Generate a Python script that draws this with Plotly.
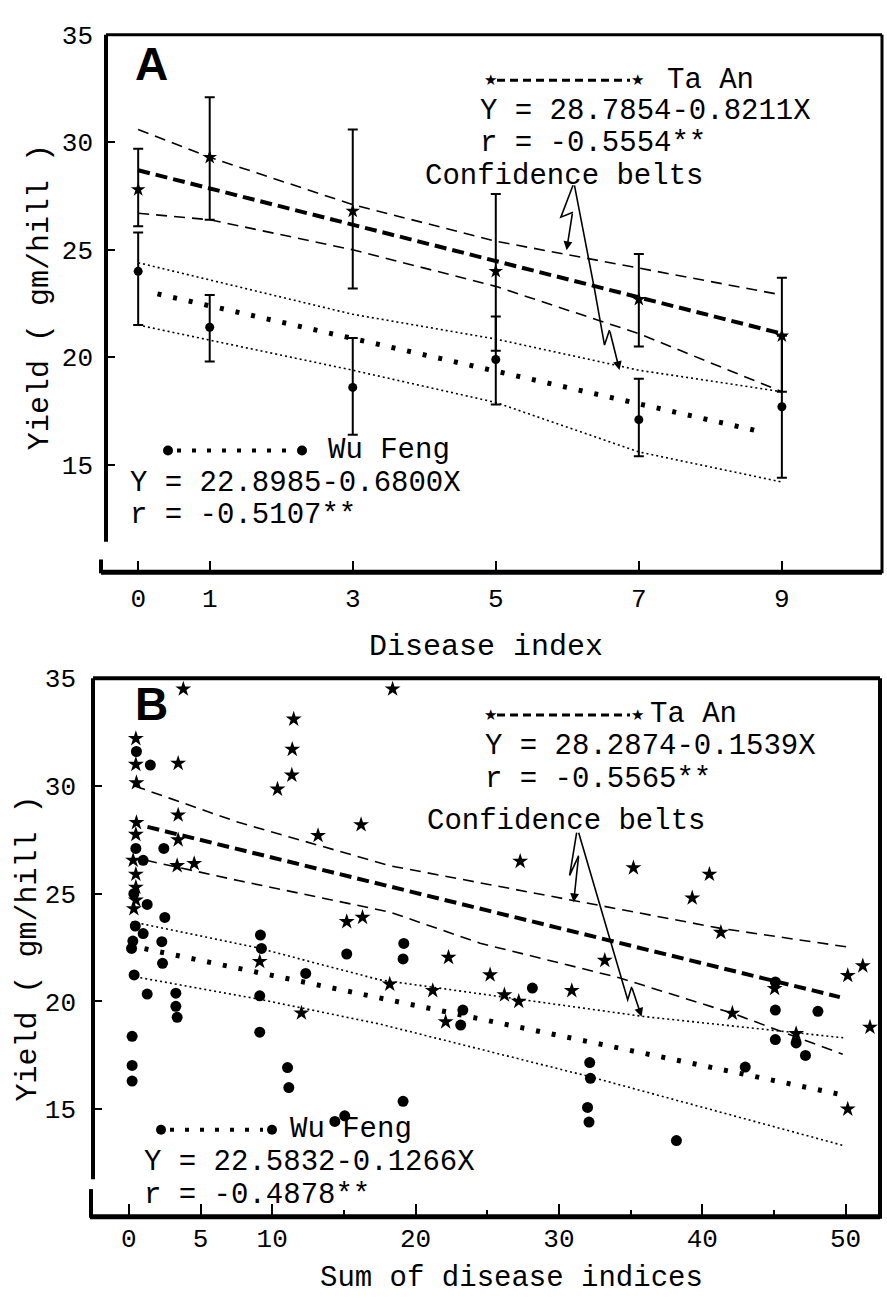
import plotly.graph_objects as go

# ---------------- data: panel A (Disease index) ----------------
A_x = [0, 1, 3, 5, 7, 9]
A_taan_mean = [27.8, 29.3, 26.8, 24.0, 22.7, 21.0]
A_taan_hi = [29.7, 32.1, 30.6, 27.6, 24.8, 23.7]
A_taan_lo = [26.1, 26.4, 23.2, 20.3, 20.5, 18.4]
A_wu_mean = [24.0, 21.4, 18.6, 19.9, 17.1, 17.7]
A_wu_hi = [25.8, 22.9, 20.9, 21.9, 19.0, 21.0]
A_wu_lo = [21.5, 19.8, 16.4, 17.8, 15.4, 14.4]

A_belt_x = [0, 1, 3, 5, 7, 9]
A_taan_belt_up = [30.6, 29.3, 27.1, 25.4, 24.15, 22.9]
A_taan_belt_dn = [26.7, 26.4, 25.0, 23.3, 21.1, 18.4]
A_wu_belt_up = [24.4, 23.6, 22.0, 20.85, 19.4, 18.4]
A_wu_belt_dn = [21.5, 20.8, 19.4, 17.9, 15.6, 14.2]
A_taan_reg_x = [0, 9]
A_taan_reg_y = [28.7, 21.1]
A_wu_reg_x = [0.27, 8.76]
A_wu_reg_y = [22.95, 16.5]

# ---------------- data: panel B (Sum of disease indices) ----------------
B_taan_x = [3.8, 0.49, 0.49, 3.44, 0.53, 11.5, 11.4, 11.37, 10.37, 3.44, 0.53, 0.49,
            3.44, 0.3, 3.37, 4.56, 0.49, 0.49, 0.49, 0.35, 13.2, 16.2, 15.2, 16.3,
            18.4, 27.3, 35.2, 40.5, 39.3, 41.3, 22.3, 25.2, 18.2, 21.2, 26.2, 27.2,
            30.9, 33.2, 22.1, 42.1, 45.05, 46.55, 50.15, 51.2, 51.7, 50.15, 9.13, 12.04]
B_taan_y = [34.5, 32.2, 31.0, 31.05, 30.15, 33.1, 31.7, 30.5, 29.85, 28.65, 28.3, 27.75,
            27.5, 26.55, 26.3, 26.4, 25.9, 25.3, 24.7, 24.3, 27.7, 28.2, 23.7, 23.9,
            34.5, 26.5, 26.2, 25.9, 24.8, 23.2, 22.04, 21.23, 20.8, 20.5, 20.3, 20.0,
            20.5, 21.9, 19.05, 19.45, 20.6, 18.5, 21.2, 21.65, 18.8, 15.0, 21.85, 19.46]

B_wu_x = [0.53, 1.5, 0.49, 2.44, 1.0, 0.35, 1.28, 2.51, 0.45, 9.18, 1.0, 0.28,
          2.3, 9.25, 15.2, 0.19, 2.35, 12.34, 0.37, 1.28, 3.28, 3.28, 3.37, 9.13,
          0.23, 9.13, 0.23, 0.23, 11.07, 11.16, 14.37, 15.06, 19.18, 19.13, 28.15, 23.3,
          23.15, 32.15, 32.2, 32.0, 32.1, 19.13, 38.2, 45.1, 48.07, 45.1, 46.55, 47.2,
          43.0, 45.1]
B_wu_y = [31.6, 30.97, 27.1, 27.1, 26.55, 25.0, 24.5, 23.9, 23.5, 23.08, 23.15, 22.8,
          22.77, 22.46, 22.2, 22.46, 21.77, 21.3, 21.23, 20.34, 20.38, 19.77, 19.26, 20.26,
          18.38, 18.57, 17.03, 16.3, 16.93, 16.0, 14.43, 14.69, 22.69, 21.97, 20.62, 19.6,
          18.9, 17.16, 16.43, 15.08, 14.4, 15.36, 13.54, 19.6, 19.54, 18.23, 18.07, 17.49,
          16.95, 20.9]

B_taan_up_x = [0.4, 7.7, 18.2, 31.0, 41.2, 50.4]
B_taan_up_y = [30.0, 28.3, 26.3, 24.7, 23.4, 22.5]
B_taan_dn_x = [1.2, 7.7, 18.2, 24.5, 34.2, 42.1, 49.8]
B_taan_dn_y = [26.55, 25.6, 24.15, 22.7, 21.1, 19.45, 17.55]
B_taan_reg_x = [1.3, 49.6]
B_taan_reg_y = [28.1, 20.2]
B_wu_up_x = [0.2, 8.9, 17.5, 35.9, 50.0]
B_wu_up_y = [23.7, 22.5, 21.0, 19.3, 18.3]
B_wu_dn_x = [0.8, 9.1, 17.5, 31.9, 49.9]
B_wu_dn_y = [21.1, 20.1, 18.95, 16.55, 13.3]
B_wu_reg_x = [0.0, 49.5]
B_wu_reg_y = [22.6, 15.7]

A_xticks = [0, 1, 3, 5, 7, 9]
B_xticks = [0, 5, 10, 20, 30, 40, 50]
B_xminor = [15, 25, 35, 45]
Y_ticks = [15, 20, 25, 30, 35]

# ---------------- figure ----------------
W, H = 887, 1298
MONO = "Liberation Mono, DejaVu Sans Mono, monospace"


def PX(x):
    return x / W


def PY(y):
    return 1 - y / H


fig = go.Figure()

taan_belt = dict(color="black", width=1.6, dash="11px,7px")
taan_reg = dict(color="black", width=4, dash="12px,6px")
wu_belt = dict(color="black", width=1.6, dash="2px,3px")
wu_reg = dict(color="black", width=5, dash="4px,12px")


def add_line(x, y, line, xa, ya):
    fig.add_trace(go.Scatter(x=x, y=y, mode="lines", line=line, xaxis=xa, yaxis=ya,
                             hoverinfo="skip", showlegend=False))


# Panel A
add_line(A_belt_x, A_taan_belt_up, taan_belt, "x", "y")
add_line(A_belt_x, A_taan_belt_dn, taan_belt, "x", "y")
add_line(A_taan_reg_x, A_taan_reg_y, taan_reg, "x", "y")
add_line(A_belt_x, A_wu_belt_up, wu_belt, "x", "y")
add_line(A_belt_x, A_wu_belt_dn, wu_belt, "x", "y")
add_line(A_wu_reg_x, A_wu_reg_y, wu_reg, "x", "y")

fig.add_trace(go.Scatter(
    x=A_x, y=A_taan_mean, mode="markers", xaxis="x", yaxis="y", showlegend=False,
    marker=dict(symbol="star", size=11, color="black"),
    error_y=dict(type="data", symmetric=False,
                 array=[h - m for h, m in zip(A_taan_hi, A_taan_mean)],
                 arrayminus=[m - l for m, l in zip(A_taan_mean, A_taan_lo)],
                 color="black", thickness=2, width=5)))
fig.add_trace(go.Scatter(
    x=A_x, y=A_wu_mean, mode="markers", xaxis="x", yaxis="y", showlegend=False,
    marker=dict(symbol="circle", size=9, color="black"),
    error_y=dict(type="data", symmetric=False,
                 array=[h - m for h, m in zip(A_wu_hi, A_wu_mean)],
                 arrayminus=[m - l for m, l in zip(A_wu_mean, A_wu_lo)],
                 color="black", thickness=2, width=5)))

# Panel B
add_line(B_taan_up_x, B_taan_up_y, taan_belt, "x2", "y2")
add_line(B_taan_dn_x, B_taan_dn_y, taan_belt, "x2", "y2")
add_line(B_taan_reg_x, B_taan_reg_y, taan_reg, "x2", "y2")
add_line(B_wu_up_x, B_wu_up_y, wu_belt, "x2", "y2")
add_line(B_wu_dn_x, B_wu_dn_y, wu_belt, "x2", "y2")
add_line(B_wu_reg_x, B_wu_reg_y, wu_reg, "x2", "y2")

fig.add_trace(go.Scatter(x=B_taan_x, y=B_taan_y, mode="markers", xaxis="x2", yaxis="y2",
                         showlegend=False,
                         marker=dict(symbol="star", size=12, color="black")))
fig.add_trace(go.Scatter(x=B_wu_x, y=B_wu_y, mode="markers", xaxis="x2", yaxis="y2",
                         showlegend=False,
                         marker=dict(symbol="circle", size=11, color="black")))

# ---------------- axes ----------------
tickfont = dict(family=MONO, size=26, color="black")
common = dict(showgrid=False, zeroline=False, showline=False, ticks="inside",
              tickcolor="black", tickwidth=2, tickfont=tickfont)

fig.update_layout(
    width=W, height=H, margin=dict(l=0, r=0, t=0, b=0),
    paper_bgcolor="white", plot_bgcolor="white", showlegend=False,
    xaxis=dict(domain=[PX(106), PX(882)], range=[-0.45, 10.4], anchor="y",
               tickmode="array", tickvals=A_xticks, ticklen=11,
               ticklabelstandoff=8, **common),
    yaxis=dict(domain=[PY(565), PY(22)], range=[10, 35], anchor="x",
               tickmode="array", tickvals=Y_ticks, ticklen=9,
               ticklabelstandoff=12, **common),
    xaxis2=dict(domain=[PX(93), PX(880)], range=[-2.5, 52.4], anchor="y2",
                tickmode="array", tickvals=B_xticks, ticklen=13,
                ticklabelstandoff=3,
                minor=dict(tickmode="array", tickvals=B_xminor, ticks="inside",
                           ticklen=7, tickwidth=2, tickcolor="black"),
                **common),
    yaxis2=dict(domain=[PY(1216), PY(672)], range=[10, 35], anchor="x2",
                tickmode="array", tickvals=Y_ticks, ticklen=9,
                ticklabelstandoff=16, **common),
)

# ---------------- frames (broken left axis) ----------------
def seg(x0, y0, x1, y1, w, dash="solid"):
    fig.add_shape(type="line", xref="paper", yref="paper",
                  x0=PX(x0), y0=PY(y0), x1=PX(x1), y1=PY(y1),
                  line=dict(color="black", width=w, dash=dash))


seg(106, 22, 882, 22, 3)
seg(882, 22, 882, 566, 3)
seg(101, 565, 882, 565, 5)
seg(106, 22, 106, 534, 4)
seg(101, 552, 101, 566, 4)

seg(93, 672, 880, 672, 4)
seg(880, 672, 880, 1218, 4)
seg(90, 1216, 880, 1216, 5)
seg(93, 672, 93, 1178, 4)
seg(91, 1188, 91, 1217, 4)

# ---------------- "Confidence belts" pointers ----------------
def bolt(path, xref, yref):
    fig.add_shape(type="path", path=path, xref=xref, yref=yref,
                  line=dict(color="black", width=1.6))


def head(x, y, ax, ay, xref, yref):
    fig.add_annotation(x=x, y=y, ax=ax, ay=ay, xref=xref, yref=yref, text="",
                       showarrow=True, arrowhead=2, arrowsize=1.1, arrowwidth=1.6,
                       arrowcolor="black")


bolt("M 6.08 28.0 L 5.91 26.52 L 6.08 26.75", "x", "y")
head(5.99, 24.98, 6, -38, "x", "y")
bolt("M 6.10 28.0 L 6.38 23.17 L 6.52 20.57 L 6.59 21.27", "x", "y")
head(6.73, 19.41, -10, -40, "x", "y")

bolt("M 31.24 27.83 L 30.75 25.85 L 31.38 26.77", "x2", "y2")
head(31.03, 24.6, 5, -47, "x2", "y2")
bolt("M 31.38 27.83 L 34.8 20.08 L 35.08 20.68", "x2", "y2")
head(35.77, 19.29, -10, -30, "x2", "y2")

# ---------------- text ----------------
def txt(s, x, y, size=29, anchor="left", angle=0, family=MONO, bold=False):
    fig.add_annotation(text=f"<b>{s}</b>" if bold else s, x=PX(x), y=PY(y),
                       xref="paper", yref="paper", showarrow=False,
                       xanchor=anchor, yanchor="middle", textangle=angle,
                       font=dict(family=family, size=size, color="black"))


def star_key(x0, x1, y):
    seg(x0 + 7, y, x1 - 7, y, 3, dash="8px,5px")
    for xx in (x0, x1):
        txt("★", xx, y, size=15, anchor="center", family="DejaVu Sans, sans-serif")


def dot_key(x0, x1, y):
    seg(x0 + 9, y, x1 - 9, y, 4, dash="4px,11px")
    for xx in (x0, x1):
        fig.add_shape(type="circle", xref="paper", yref="paper",
                      x0=PX(xx - 5), x1=PX(xx + 5), y0=PY(y + 5), y1=PY(y - 5),
                      fillcolor="black", line=dict(color="black", width=0))


txt("A", 133, 52, size=46, family="Liberation Sans, Arial, sans-serif", bold=True)
txt("B", 133, 698, size=46, family="Liberation Sans, Arial, sans-serif", bold=True)

# panel A legend texts
star_key(490, 637, 68)
txt("Ta An", 665, 68)
txt("Y = 28.7854-0.8211X", 478, 100)
txt("r = -0.5554**", 478, 132)
txt("Confidence belts", 423, 165)
dot_key(168, 302, 442)
txt("Wu Feng", 326, 442)
txt("Y = 22.8985-0.6800X", 128, 475)
txt("r = -0.5107**", 128, 508)

# panel B legend texts
star_key(490, 637, 709)
txt("Ta An", 648, 709)
txt("Y = 28.2874-0.1539X", 483, 741)
txt("r = -0.5565**", 483, 774)
txt("Confidence belts", 425, 817)
dot_key(161, 272, 1128)
txt("Wu Feng", 288, 1128)
txt("Y = 22.5832-0.1266X", 142, 1161)
txt("r = -0.4878**", 142, 1194)

txt("Yield ( gm/hill )", 40, 287, size=30, anchor="center", angle=-90)
txt("Yield ( gm/hill )", 28, 945, size=30, anchor="center", angle=-90)
txt("Disease index", 486, 640, size=30, anchor="center")
txt("Sum of disease indices", 511, 1278, size=29, anchor="center")

fig.write_html("out.html")
